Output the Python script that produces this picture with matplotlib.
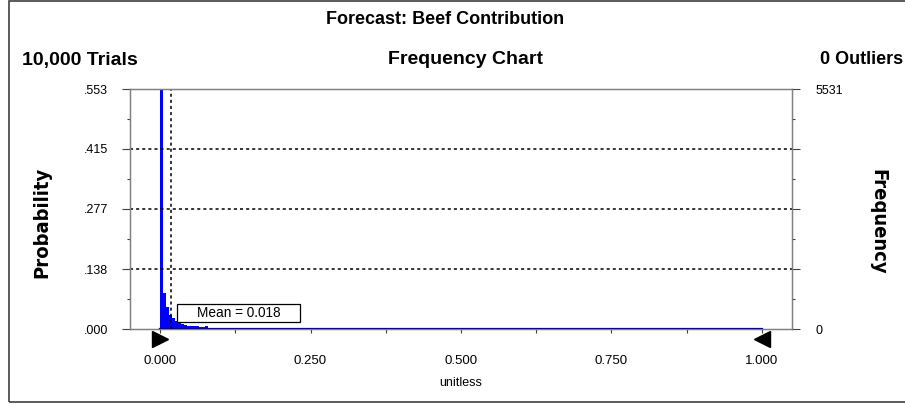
import matplotlib
matplotlib.use("Agg")
from matplotlib import pyplot as plt
from matplotlib import transforms
from matplotlib.patches import Rectangle
import numpy as np

plt.rcParams['font.family'] = ['Liberation Sans', 'DejaVu Sans']

# forecast histogram: bins of width 0.005 starting at 0.000
bin_width = 0.005
probs = [0.553, 0.083, 0.050, 0.033, 0.026, 0.019, 0.014, 0.011, 0.009,
         0.008, 0.007, 0.006, 0.006, 0.005, 0.004, 0.008, 0.002, 0.002]
trials = 10000
mean_val = 0.018
x_min, x_max = 0.0, 1.0
prob_ticks = [0.000, 0.138, 0.277, 0.415, 0.553]
prob_labels = ['.000', '.138', '.277', '.415', '.553']
x_ticks = [0.0, 0.25, 0.5, 0.75, 1.0]
x_labels = ['0.000', '0.250', '0.500', '0.750', '1.000']
freq_top = 5531

W, H = 905, 404
fig = plt.figure(figsize=(W / 100, H / 100), dpi=100)
ax = fig.add_axes([130 / W, (H - 329) / H, (792 - 130) / W, (329 - 89) / H])

edges = x_min + bin_width * np.arange(len(probs) + 1)
ax.stairs(probs, edges, fill=True, color='#0000ff', lw=0)
ax.plot([x_min, x_max], [0, 0], color='#00008b', lw=1.6, zorder=3)

ax.set_xlim(-0.05, 1.05)
ax.set_ylim(0, prob_ticks[-1])

# dotted grid + mean line
for y in prob_ticks[1:-1]:
    ax.axhline(y, color='black', ls=(0, (2, 2)), lw=1.1, zorder=1)
ax.axvline(mean_val, color='black', ls=(0, (2, 2)), lw=1.1, zorder=4)

# mean label box
ax.add_patch(Rectangle((0.028, 0.0161), 0.2044, 0.0415, fc='white', ec='black',
                       lw=0.9, zorder=5))
ax.text(0.130, 0.0368, f'Mean = {mean_val:.3f}', ha='center', va='center',
        fontsize=9.8, zorder=6)

for s in ax.spines.values():
    s.set_color('#808080')
    s.set_linewidth(1.0)

ax.set_yticks(prob_ticks)
ax.set_yticklabels(prob_labels)
ax.set_yticks([(a + b) / 2 for a, b in zip(prob_ticks[:-1], prob_ticks[1:])], minor=True)
ax.tick_params(axis='y', which='major', length=6, width=0.8, color='#404040',
               labelsize=9, pad=10)
ax.tick_params(axis='y', which='minor', length=2, width=0.8, color='#404040')

ax.set_xticks(x_ticks)
ax.set_xticklabels(x_labels)
ax.set_xticks([0.125, 0.375, 0.625, 0.875], minor=True)
ax.tick_params(axis='x', which='both', length=3, width=0.8, color='#404040',
               labelsize=9.5, pad=16)
ax.set_xlabel('unitless', fontsize=9, labelpad=7)

# range markers under the axis
shift = ax.get_xaxis_transform() + transforms.ScaledTranslation(0, -0.10, fig.dpi_scale_trans)
ax.plot([x_min], [0], marker='>', ms=11, color='black', clip_on=False,
        transform=shift, zorder=6)
ax.plot([x_max], [0], marker='<', ms=11, color='black', clip_on=False,
        transform=shift, zorder=6)

ax2 = ax.twinx()
ax2.set_ylim(0, freq_top)
freq_ticks = [p * trials for p in prob_ticks]
freq_ticks[-1] = freq_top
ax2.set_yticks(freq_ticks)
ax2.set_yticklabels(['0', '', '', '', str(freq_top)])
ax2.set_yticks([(a + b) / 2 for a, b in zip(freq_ticks[:-1], freq_ticks[1:])], minor=True)
ax2.tick_params(axis='y', which='major', length=6, width=0.8, color='#404040',
                labelsize=9, pad=11)
ax2.tick_params(axis='y', which='minor', length=2, width=0.8, color='#404040')
for s in ax2.spines.values():
    s.set_color('#808080')

# axis titles
fig.text(42 / W, 1 - 222 / H, 'Probability', rotation=90, ha='center', va='center',
         fontsize=14.5, fontweight='bold', fontstretch='condensed', family='DejaVu Sans')
fig.text(878 / W, 1 - 222 / H, 'Frequency', rotation=-90, ha='center', va='center',
         fontsize=14.5, fontweight='bold', fontstretch='condensed', family='DejaVu Sans')

fig.text(445 / W, 1 - 19 / H, 'Forecast: Beef Contribution', ha='center', va='center',
         fontsize=13, fontweight='bold')
fig.text(22 / W, 1 - 60 / H, '10,000 Trials', ha='left', va='center',
         fontsize=14, fontweight='bold')
fig.text(465 / W, 1 - 60 / H, 'Frequency Chart', ha='center', va='center',
         fontsize=14, fontweight='bold')
fig.text(903 / W, 1 - 60 / H, '0 Outliers', ha='right', va='center',
         fontsize=13, fontweight='bold')

# outer frame
fig.patches.append(Rectangle((9 / W, 2 / H), (W - 8) / W, (H - 3) / H,
                             transform=fig.transFigure, fill=False,
                             ec='#404040', lw=1.2))

fig.savefig('out.png', dpi=100)
